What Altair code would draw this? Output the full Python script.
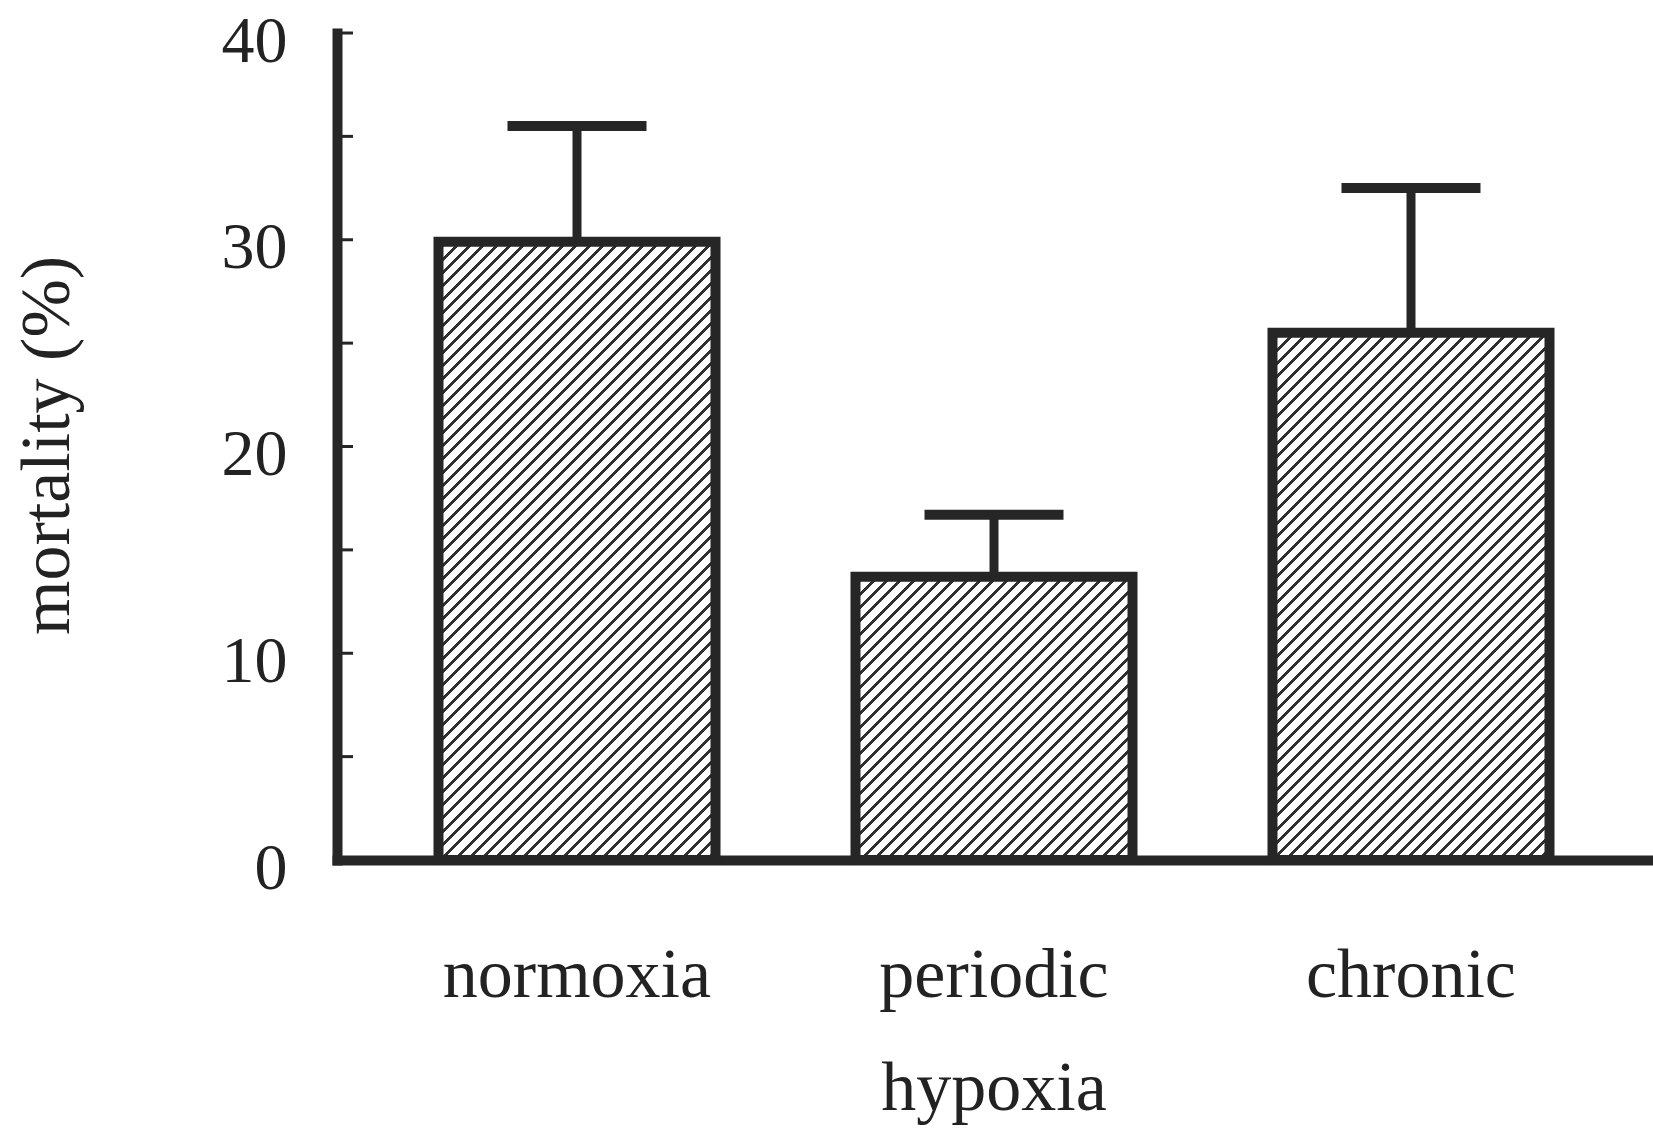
import altair as alt
import pandas as pd

# ---- data ----
categories = ["normoxia", "periodic hypoxia", "chronic"]
mortality = [29.9, 13.7, 25.5]
error_up = [5.6, 3.0, 7.0]
y_tick_labels = [0, 10, 20, 30, 40]
minor_ticks = [5, 10, 15, 20, 25, 30, 35, 40]

df = pd.DataFrame({"group": categories, "value": mortality, "err": error_up})
df["top"] = df["value"] + df["err"]
ticks_df = pd.DataFrame({"v": minor_ticks})

# ---- layout / style ----
W, H = 1314, 827
PAD_L, PAD_T = 337, 33
INK = "#262626"
FONT = "Liberation Serif"
P_IN, P_OUT = 0.3357, 0.2434
step = W / (len(categories) - P_IN + 2 * P_OUT)
bar_w = step * (1 - P_IN)
px_per_unit = H / 40.0

HATCH_PERIOD = 13.3   # horizontal spacing of hatch lines (px)
HATCH_LINE = 4.0      # horizontal thickness of hatch lines (px)


def hatch_gradient(w, h):
    """45-degree '/' hatching expressed as a linear gradient in bbox units."""
    c = (1 / h + 1 / w) / (1 / h ** 2 + 1 / w ** 2)
    total = w + h
    per = HATCH_PERIOD / total
    lw = HATCH_LINE / total
    stops = [alt.GradientStop(offset=0, color="white")]
    t = per * 0.5
    while t + lw < 1:
        stops.append(alt.GradientStop(offset=round(t, 5), color="white"))
        stops.append(alt.GradientStop(offset=round(t, 5), color="#303030"))
        stops.append(alt.GradientStop(offset=round(t + lw, 5), color="#303030"))
        stops.append(alt.GradientStop(offset=round(t + lw, 5), color="white"))
        t += per
    stops.append(alt.GradientStop(offset=1, color="white"))
    return alt.LinearGradient(gradient="linear", stops=stops,
                              x1=0, y1=0, x2=c / h, y2=c / w)


xscale = alt.Scale(domain=categories, paddingInner=P_IN, paddingOuter=P_OUT)
yscale = alt.Scale(domain=[0, 40], nice=False, zero=True)

x_axis = alt.Axis(
    title=None, labelAngle=0, labelFont=FONT, labelFontSize=70, labelColor="#222",
    labelPadding=81, labelBaseline="top", labelExpr="split(datum.label, ' ')",
    labelLineHeight=113, labelLimit=0, ticks=False, grid=False,
    domainWidth=10, domainColor=INK, domainCap="square",
)
y_axis = alt.Axis(
    values=y_tick_labels, title="mortality (%)", titleFont=FONT, titleFontSize=70,
    titleFontWeight="normal", titleColor="#222", titleAngle=270, titleX=-290,
    titleY=412, titleAlign="center", titleBaseline="middle",
    labelFont=FONT, labelFontSize=66, labelColor="#222", labelPadding=50,
    labelBaseline="middle", labelOffset=8, labelFlush=False, labelOverlap=False,
    ticks=False, grid=False, domainWidth=10, domainColor=INK, domainCap="square",
)

X = alt.X("group:N", sort=categories, scale=xscale, axis=x_axis, title=None)

layers = []
for i, cat in enumerate(categories):
    h = mortality[i] * px_per_unit
    layers.append(
        alt.Chart(df).transform_filter(alt.datum.group == cat).mark_bar(
            fill=hatch_gradient(bar_w, h), stroke=INK, strokeWidth=10,
            strokeJoin="miter",
        ).encode(
            x=X,
            y=alt.Y("value:Q", scale=yscale, axis=y_axis, title="mortality (%)"),
        )
    )

stems = alt.Chart(df).mark_rule(color=INK, strokeWidth=9).encode(
    x=X,
    y=alt.Y("value:Q", scale=yscale, axis=y_axis, title="mortality (%)"),
    y2="top:Q",
)
caps = alt.Chart(df).mark_tick(color=INK, thickness=10, size=139, opacity=1).encode(
    x=X,
    y=alt.Y("top:Q", scale=yscale, axis=y_axis, title="mortality (%)"),
)
inner_ticks = alt.Chart(ticks_df).mark_rule(color=INK, strokeWidth=3).encode(
    y=alt.Y("v:Q", scale=yscale, axis=y_axis, title="mortality (%)"),
    x=alt.value(0),
    x2=alt.value(16),
)

chart = alt.layer(*layers, stems, caps, inner_ticks).properties(
    width=W, height=H,
    autosize=alt.AutoSizeParams(type="none"),
    padding={"left": PAD_L, "top": PAD_T, "right": 1653 - PAD_L - W, "bottom": 1136 - PAD_T - H},
    background="white",
).configure_view(stroke=None)

chart.save("out.html", embed_options={"renderer": "svg", "actions": False})
